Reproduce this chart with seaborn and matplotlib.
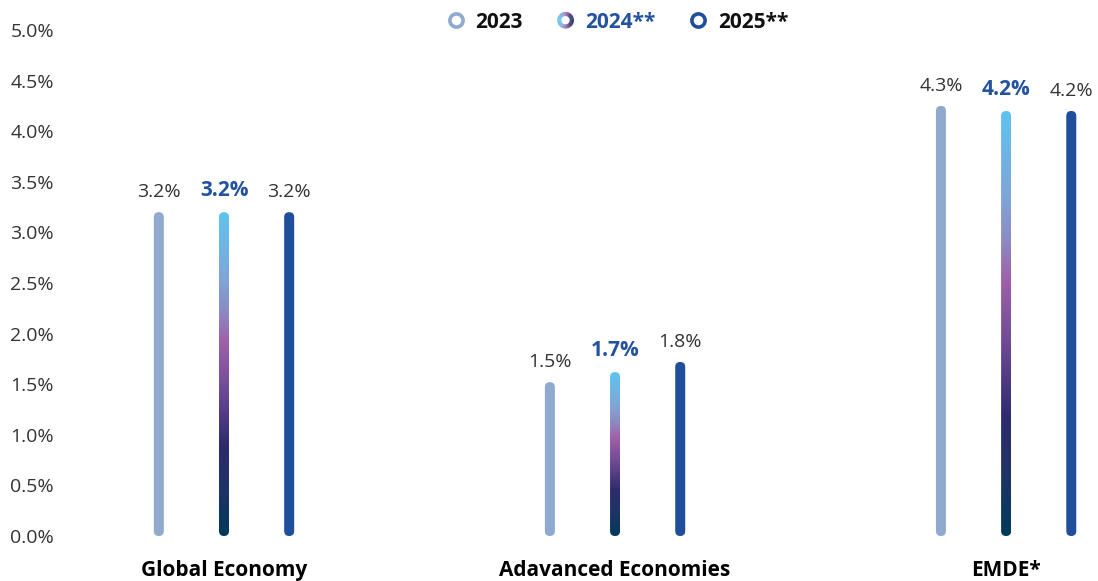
import numpy as np
import pandas as pd
import matplotlib
matplotlib.use("Agg")
import matplotlib.pyplot as plt
import seaborn as sns
from matplotlib.colors import LinearSegmentedColormap
from matplotlib.patches import FancyBboxPatch, Wedge
from matplotlib.lines import Line2D
from matplotlib.legend_handler import HandlerBase

# ---------------- data ----------------
categories = ["Global Economy", "Adavanced Economies", "EMDE*"]
years = ["2023", "2024**", "2025**"]
values_2023 = [3.2, 1.52, 4.25]
values_2024 = [3.2, 1.62, 4.2]
values_2025 = [3.2, 1.72, 4.2]
labels_2023 = ["3.2%", "1.5%", "4.3%"]
labels_2024 = ["3.2%", "1.7%", "4.2%"]
labels_2025 = ["3.2%", "1.8%", "4.2%"]
ytick_values = [0.0, 0.5, 1.0, 1.5, 2.0, 2.5, 3.0, 3.5, 4.0, 4.5, 5.0]

# ---------------- style ----------------
C2023 = "#8FA9CF"
C2025 = "#1F4E9A"
BLUE_TXT = "#2352A0"
grad_cmap = LinearSegmentedColormap.from_list(
    "g2024",
    [(0.0, "#5EC4F0"), (0.2, "#7FA6D8"), (0.3, "#8C8CC5"), (0.4, "#A060A8"),
     (0.55, "#6E4A95"), (0.72, "#2E2B6E"), (0.86, "#1E3466"), (1.0, "#003A5A")])

sns.set_theme(style="white")
plt.rcParams["font.family"] = ["Open Sans", "DejaVu Sans"]

REG = 14.0
BOLD = 15.0

df = pd.DataFrame({
    "category": categories * 3,
    "year": [years[0]] * 3 + [years[1]] * 3 + [years[2]] * 3,
    "value": values_2023 + values_2024 + values_2025,
})
labels_by_year = [labels_2023, labels_2024, labels_2025]

W, H = 1098, 581
fig = plt.figure(figsize=(W / 100, H / 100), dpi=100)
ax = fig.add_axes([65 / W, 45 / H, 1033 / W, 506 / H])

sns.barplot(data=df, x="category", y="value", hue="year", order=categories,
            hue_order=years, palette=[C2023, "#A060A8", C2025], width=0.5,
            dodge=True, ax=ax, legend=False, saturation=1)

ax.set_ylim(0, 5.0)
ax.set_xlim(-0.4066, 2.235)
for s in ax.spines.values():
    s.set_visible(False)
ax.set_yticks(ytick_values)
ax.set_yticklabels([f"{v:.1f}%" for v in ytick_values])
ax.tick_params(axis="y", length=0, pad=8, labelsize=REG, labelcolor="#333333")
ax.tick_params(axis="x", length=0, pad=17, labelsize=BOLD, labelcolor="#000000")
for t in ax.get_xticklabels():
    t.set_fontweight("bold")
ax.set_xlabel("")
ax.set_ylabel("")
ax.grid(False)

# pixel scales
fig.canvas.draw()
p0 = ax.transData.transform((0, 0))
p1 = ax.transData.transform((1, 1))
px_per_x = p1[0] - p0[0]
px_per_y = p1[1] - p0[1]
bar_px = 10
bw = bar_px / px_per_x
aspect = px_per_x / px_per_y

for yi, container in enumerate(ax.containers):
    for ci, bar in enumerate(container):
        xc = bar.get_x() + bar.get_width() / 2
        v = bar.get_height()
        bar.set_visible(False)
        face = {0: C2023, 1: "none", 2: C2025}[yi]
        patch = FancyBboxPatch((xc - bw / 2, 0), bw, v,
                               boxstyle=f"round,pad=0,rounding_size={bw / 2}",
                               mutation_aspect=aspect, facecolor=face,
                               edgecolor="none", zorder=3)
        ax.add_patch(patch)
        if yi == 1:
            grad = np.linspace(0, 1, 256).reshape(-1, 1)
            im = ax.imshow(grad, cmap=grad_cmap, aspect="auto",
                           extent=[xc - bw / 2, xc + bw / 2, 0, v],
                           origin="upper", zorder=3, interpolation="bilinear")
            im.set_clip_path(patch)
        lbl = labels_by_year[yi][ci]
        if yi == 1:
            ax.annotate(lbl, (xc, v), xytext=(0, 8), textcoords="offset points",
                        ha="center", va="bottom", fontsize=BOLD,
                        fontweight="bold", color=BLUE_TXT, zorder=4)
        else:
            ax.annotate(lbl, (xc, v), xytext=(0, 8), textcoords="offset points",
                        ha="center", va="bottom", fontsize=REG,
                        color="#333333", zorder=4)

ax.set_xlim(-0.4066, 2.235)
ax.set_ylim(0, 5.0)


# ---------------- legend ----------------
class GradRingHandler(HandlerBase):
    def create_artists(self, legend, orig_handle, xdescent, ydescent,
                       width, height, fontsize, trans):
        cx = width / 2 - xdescent
        cy = height / 2 - ydescent
        r = 6.0
        arts = []
        n = 48
        for k in range(n):
            a0 = 360 * k / n
            a1 = 360 * (k + 1) / n + 1
            am = np.deg2rad((a0 + a1) / 2)
            t = (np.cos(am) + 1) / 2
            col = grad_cmap(0.0 + 0.8 * t)
            w = Wedge((cx, cy), r, a0, a1, width=3.0, facecolor=col,
                      edgecolor="none", transform=trans)
            arts.append(w)
        return arts


h2023 = Line2D([], [], marker="o", linestyle="none", markersize=9.5,
               markerfacecolor="white", markeredgecolor=C2023, markeredgewidth=2.6)
h2024 = Line2D([], [], marker="o", linestyle="none")
h2025 = Line2D([], [], marker="o", linestyle="none", markersize=9.5,
               markerfacecolor="white", markeredgecolor=C2025, markeredgewidth=2.6)
leg = fig.legend([h2023, h2024, h2025], years, loc="center",
                 bbox_to_anchor=(618 / W, 1 - 22 / H), ncol=3, frameon=False,
                 handlelength=0.8, handletextpad=0.55, columnspacing=1.65,
                 prop={"weight": "bold", "size": BOLD},
                 handler_map={h2024: GradRingHandler()})
for i, t in enumerate(leg.get_texts()):
    t.set_color(BLUE_TXT if i == 1 else "#111111")

fig.savefig("out.png", dpi=100)
